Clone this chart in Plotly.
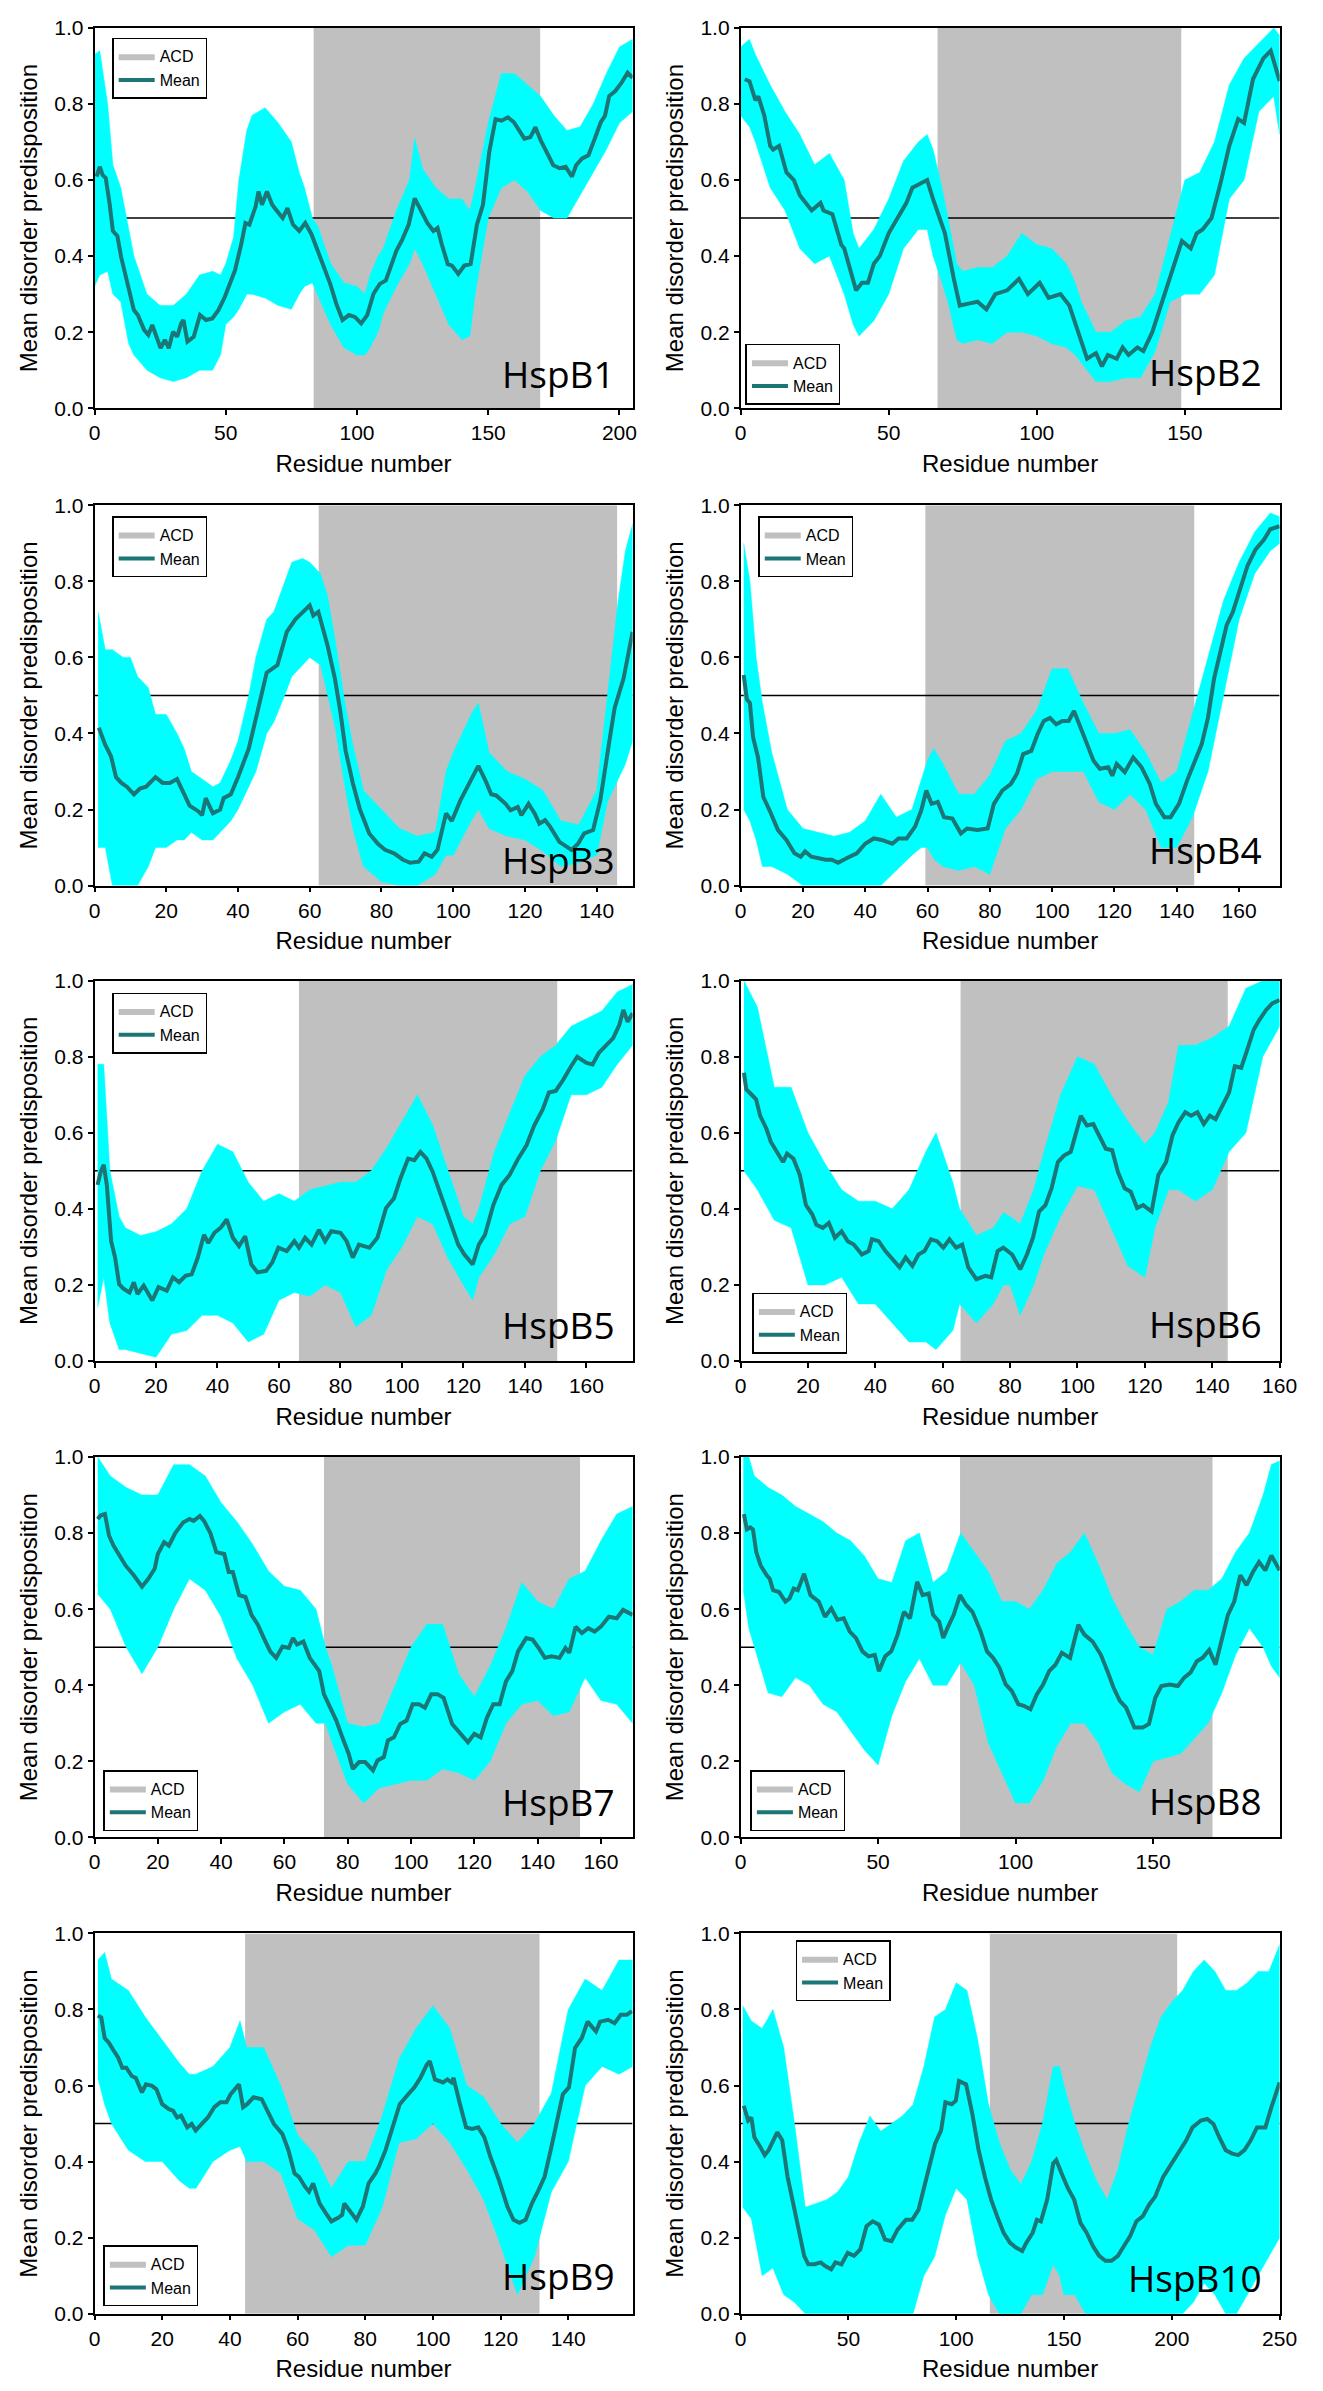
import plotly.graph_objects as go

# ---- data ----
names = ["HspB1", "HspB2", "HspB3", "HspB4", "HspB5",
         "HspB6", "HspB7", "HspB8", "HspB9", "HspB10"]
lengths = [205, 182, 150, 173, 175, 160, 170, 196, 159, 250]
acd_start = [83.5, 66.5, 62.5, 59.3, 66.5, 65.3, 72.5, 79.8, 44.5, 115.6]
acd_end = [169.8, 148.8, 145.7, 145.6, 150.5, 144.6, 153.4, 171.6, 131.5, 202.5]
tick_step = [50, 50, 20, 20, 20, 20, 20, 50, 20, 50]
threshold = 0.5

hspb1_mean_x = [0.8, 2, 3.1, 4.3, 5.8, 7, 8.7, 10.2, 12.6, 15, 16.5, 18.9, 20.5, 22, 23.6, 25.2, 26.8, 28.3, 29.9, 31.5,
                33, 33.9, 35.4, 37.8, 40.2, 42.5, 44.9, 47.2, 49.6, 51.2, 53.5, 55.9, 57.5, 59, 61.4, 62.5, 63.8, 65.7,
                67.7, 69.6, 71.7, 73.5, 75.6, 78, 80.3, 82.7, 85, 87.4, 89.8, 92.1, 94.5, 96.9, 99.2, 101.6, 103.9,
                106.3, 108.7, 111, 112.6, 115, 117.3, 119.7, 122, 124.4, 126.8, 129.1, 130.7, 132.3, 134.6, 136.2,
                138.6, 140.9, 143.3, 145.7, 148, 150.4, 152.8, 155.1, 157.5, 159.8, 162.2, 163.8, 166.1, 168, 170,
                172.4, 174.8, 177.2, 179.5, 181.9, 183.5, 185.8, 188.2, 190.6, 192.9, 194.5, 196.1, 198.4, 200.8,
                203.1, 205]
hspb1_mean_y = [0.609, 0.635, 0.613, 0.605, 0.535, 0.466, 0.453, 0.396, 0.327, 0.258, 0.245, 0.206, 0.193, 0.219,
                0.188, 0.158, 0.18, 0.158, 0.201, 0.188, 0.223, 0.232, 0.175, 0.188, 0.245, 0.232, 0.236, 0.258,
                0.292, 0.318, 0.362, 0.431, 0.487, 0.483, 0.531, 0.57, 0.535, 0.57, 0.535, 0.518, 0.5, 0.526, 0.483,
                0.466, 0.487, 0.457, 0.414, 0.375, 0.327, 0.275, 0.232, 0.245, 0.24, 0.223, 0.245, 0.301, 0.327,
                0.336, 0.37, 0.414, 0.444, 0.483, 0.552, 0.518, 0.487, 0.466, 0.474, 0.431, 0.379, 0.375, 0.353,
                0.375, 0.379, 0.483, 0.535, 0.674, 0.76, 0.756, 0.765, 0.752, 0.726, 0.709, 0.713, 0.739, 0.704,
                0.67, 0.639, 0.631, 0.635, 0.609, 0.639, 0.657, 0.665, 0.709, 0.752, 0.769, 0.821, 0.834, 0.856,
                0.882, 0.869]
hspb1_band_x = [0, 2, 5, 7, 10, 13, 15, 20, 25, 30, 35, 40, 45, 48, 50, 53, 55, 58, 60, 65, 70, 75, 78, 80, 83, 85,
                88, 90, 95, 100, 103, 105, 108, 110, 115, 120, 122, 125, 130, 135, 140, 143, 145, 148, 150, 155, 160,
                165, 170, 175, 180, 185, 190, 195, 200, 205]
hspb1_band_lo = [0.32, 0.35, 0.36, 0.30, 0.28, 0.17, 0.14, 0.10, 0.08, 0.07, 0.08, 0.10, 0.10, 0.14, 0.22, 0.24,
                 0.26, 0.30, 0.30, 0.29, 0.27, 0.26, 0.30, 0.32, 0.33, 0.30, 0.25, 0.22, 0.16, 0.14, 0.14, 0.16,
                 0.20, 0.25, 0.32, 0.38, 0.42, 0.38, 0.30, 0.22, 0.18, 0.19, 0.30, 0.42, 0.50, 0.58, 0.60, 0.57,
                 0.52, 0.50, 0.50, 0.56, 0.62, 0.68, 0.75, 0.78]
hspb1_band_hi = [0.93, 0.94, 0.80, 0.64, 0.58, 0.47, 0.40, 0.30, 0.27, 0.27, 0.30, 0.35, 0.36, 0.35, 0.38, 0.45,
                 0.60, 0.73, 0.77, 0.79, 0.75, 0.70, 0.62, 0.58, 0.50, 0.48, 0.42, 0.38, 0.33, 0.32, 0.30, 0.35,
                 0.40, 0.42, 0.52, 0.60, 0.71, 0.63, 0.58, 0.55, 0.55, 0.52, 0.58, 0.68, 0.75, 0.88, 0.88, 0.85,
                 0.82, 0.77, 0.73, 0.74, 0.80, 0.88, 0.95, 0.97]

hspb2_mean_x = [1.4, 3, 5, 6, 8, 10, 11, 13, 15.5, 18, 20, 24, 27, 28, 31, 34, 35, 39, 41, 43, 45, 47, 50, 53, 56,
                58, 63, 65, 69, 72, 74, 77, 80, 83, 86, 90, 94, 97, 101, 104, 108, 111, 114, 117, 120, 122, 124,
                127, 129, 131, 134, 136, 139, 142, 145, 149, 152, 154, 156, 159, 162, 165, 168, 170, 173, 176.5,
                179, 182]
hspb2_mean_y = [0.865, 0.86, 0.81, 0.82, 0.77, 0.69, 0.68, 0.69, 0.62, 0.60, 0.56, 0.52, 0.54, 0.52, 0.51, 0.43,
                0.42, 0.31, 0.33, 0.33, 0.38, 0.40, 0.46, 0.50, 0.54, 0.58, 0.60, 0.55, 0.46, 0.34, 0.27, 0.275,
                0.28, 0.26, 0.30, 0.31, 0.34, 0.30, 0.33, 0.29, 0.30, 0.27, 0.20, 0.13, 0.145, 0.11, 0.14, 0.13,
                0.16, 0.14, 0.16, 0.15, 0.20, 0.27, 0.34, 0.44, 0.42, 0.46, 0.47, 0.50, 0.59, 0.69, 0.76, 0.75,
                0.865, 0.92, 0.94, 0.86]
hspb2_band_x = [0, 3, 5, 10, 15, 20, 25, 30, 35, 38, 40, 45, 50, 55, 60, 63, 65, 68, 70, 73, 75, 80, 85, 90, 95,
                100, 105, 110, 113, 115, 120, 125, 130, 135, 140, 145, 150, 155, 160, 165, 170, 175, 180, 182]
hspb2_band_lo = [0.77, 0.74, 0.70, 0.58, 0.52, 0.42, 0.38, 0.40, 0.30, 0.22, 0.19, 0.23, 0.30, 0.42, 0.47, 0.47,
                 0.40, 0.33, 0.28, 0.18, 0.17, 0.18, 0.17, 0.20, 0.20, 0.19, 0.17, 0.16, 0.14, 0.12, 0.07, 0.07,
                 0.08, 0.08, 0.15, 0.28, 0.30, 0.30, 0.35, 0.55, 0.60, 0.78, 0.82, 0.72]
hspb2_band_hi = [0.95, 0.97, 0.93, 0.85, 0.78, 0.72, 0.64, 0.67, 0.60, 0.46, 0.42, 0.47, 0.55, 0.65, 0.70, 0.72,
                 0.68, 0.58, 0.50, 0.38, 0.36, 0.37, 0.37, 0.40, 0.46, 0.43, 0.42, 0.38, 0.33, 0.28, 0.20, 0.20,
                 0.23, 0.24, 0.30, 0.45, 0.60, 0.62, 0.70, 0.85, 0.92, 0.96, 1.00, 0.98]

hspb3_mean_x = [1.2, 3, 4.6, 6, 7.5, 9, 11, 12.7, 14.4, 17, 19, 21, 23, 25, 26.5, 29, 30, 31, 33, 35, 36, 38, 40,
                43, 45.5, 48, 51, 53.6, 56, 58, 60, 61, 62.4, 65, 67, 68.5, 70, 72, 74, 76.6, 79, 81, 83.5, 86, 88,
                90.4, 92, 94, 95.6, 98, 99.6, 102, 104, 107, 109, 110.6, 112, 114.6, 116, 118, 119, 121, 122.7,
                124, 125.6, 127, 129.6, 131, 133, 134.8, 136.5, 139, 141, 143.4, 145, 147.5, 150]
hspb3_mean_y = [0.415, 0.37, 0.34, 0.285, 0.27, 0.26, 0.24, 0.255, 0.26, 0.285, 0.27, 0.27, 0.28, 0.24, 0.21,
                0.195, 0.185, 0.23, 0.19, 0.20, 0.23, 0.24, 0.285, 0.36, 0.46, 0.56, 0.58, 0.667, 0.70, 0.72, 0.737,
                0.71, 0.72, 0.63, 0.545, 0.46, 0.355, 0.27, 0.20, 0.137, 0.11, 0.094, 0.085, 0.068, 0.06, 0.063,
                0.085, 0.076, 0.094, 0.19, 0.17, 0.224, 0.26, 0.315, 0.276, 0.24, 0.237, 0.215, 0.198, 0.207,
                0.185, 0.215, 0.19, 0.163, 0.172, 0.155, 0.115, 0.107, 0.094, 0.11, 0.137, 0.146, 0.224, 0.372,
                0.467, 0.545, 0.667]
hspb3_band_x = [1, 3, 5, 8, 10, 12, 15, 17, 20, 23, 25, 27, 30, 33, 35, 38, 40, 43, 45, 48, 50, 53, 55, 58, 60, 63,
                65, 67, 70, 72, 75, 80, 85, 90, 95, 98, 100, 105, 107, 110, 115, 120, 125, 130, 135, 140, 143, 146,
                148, 150]
hspb3_band_lo = [0.10, 0.10, 0.0, 0.0, 0.0, 0.0, 0.05, 0.10, 0.10, 0.12, 0.12, 0.14, 0.12, 0.12, 0.14, 0.17, 0.20,
                 0.26, 0.30, 0.40, 0.43, 0.50, 0.55, 0.58, 0.60, 0.58, 0.50, 0.42, 0.25, 0.15, 0.05, 0.01, 0.0, 0.0,
                 0.03, 0.08, 0.08, 0.17, 0.20, 0.15, 0.13, 0.12, 0.09, 0.05, 0.06, 0.08, 0.22, 0.28, 0.32, 0.38]
hspb3_band_hi = [0.72, 0.62, 0.62, 0.60, 0.60, 0.55, 0.52, 0.45, 0.45, 0.40, 0.36, 0.30, 0.28, 0.26, 0.27, 0.33,
                 0.38, 0.50, 0.60, 0.70, 0.72, 0.80, 0.85, 0.86, 0.85, 0.82, 0.76, 0.65, 0.47, 0.37, 0.25, 0.20,
                 0.15, 0.13, 0.14, 0.30, 0.35, 0.45, 0.48, 0.35, 0.30, 0.28, 0.25, 0.17, 0.16, 0.25, 0.50, 0.75,
                 0.88, 0.95]

hspb4_mean_x = [1, 2, 3, 4, 5.6, 7.3, 9.3, 12, 14.7, 17.3, 19.3, 20.7, 22.7, 25.3, 27.3, 29.3, 31.3, 34, 37.3, 40,
                42.7, 45.3, 48.7, 50.7, 53.3, 56, 58, 59.6, 61.3, 63.3, 65.3, 68, 70.7, 72.7, 76, 79.3, 81.3, 84,
                86.7, 88.7, 90.7, 93.3, 95.3, 97.3, 99.3, 101.3, 103.3, 105.3, 107, 108.7, 110.7, 113.3, 115.3, 118,
                119.3, 120.7, 123.3, 126, 128.7, 131.3, 133.3, 136, 138, 140.7, 143.3, 146, 148, 150, 152, 154, 156,
                158, 160.7, 162.7, 165.3, 168, 170, 173]
hspb4_mean_y = [0.554, 0.49, 0.48, 0.39, 0.337, 0.233, 0.198, 0.146, 0.12, 0.085, 0.076, 0.09, 0.076, 0.072, 0.068,
                0.068, 0.06, 0.072, 0.085, 0.11, 0.124, 0.12, 0.11, 0.124, 0.124, 0.155, 0.198, 0.25, 0.215, 0.22,
                0.18, 0.176, 0.137, 0.15, 0.146, 0.15, 0.215, 0.25, 0.267, 0.294, 0.346, 0.354, 0.398, 0.433, 0.441,
                0.424, 0.433, 0.433, 0.459, 0.424, 0.38, 0.328, 0.307, 0.311, 0.289, 0.32, 0.298, 0.337, 0.311,
                0.268, 0.215, 0.18, 0.18, 0.215, 0.276, 0.328, 0.372, 0.441, 0.546, 0.615, 0.685, 0.72, 0.789,
                0.841, 0.884, 0.91, 0.937, 0.945]
hspb4_band_x = [1, 3, 5, 7, 10, 15, 20, 25, 30, 35, 40, 45, 50, 55, 58, 60, 62, 65, 70, 75, 80, 85, 90, 95, 100,
                105, 110, 115, 120, 125, 130, 135, 140, 145, 150, 155, 160, 165, 170, 173]
hspb4_band_lo = [0.20, 0.17, 0.12, 0.05, 0.05, 0.03, 0.0, 0.0, 0.0, 0.0, 0.0, 0.0, 0.04, 0.08, 0.10, 0.10, 0.07,
                 0.05, 0.04, 0.05, 0.03, 0.15, 0.20, 0.28, 0.30, 0.30, 0.30, 0.22, 0.20, 0.24, 0.20, 0.10, 0.10,
                 0.18, 0.30, 0.50, 0.70, 0.82, 0.88, 0.90]
hspb4_band_hi = [0.90, 0.80, 0.60, 0.48, 0.35, 0.20, 0.15, 0.14, 0.13, 0.14, 0.17, 0.24, 0.18, 0.20, 0.28, 0.33,
                 0.36, 0.32, 0.24, 0.24, 0.29, 0.38, 0.40, 0.46, 0.57, 0.57, 0.48, 0.40, 0.40, 0.41, 0.35, 0.27,
                 0.30, 0.45, 0.60, 0.75, 0.85, 0.93, 0.98, 0.97]

hspb5_mean_x = [1, 2, 3, 4, 5.4, 6.7, 8, 9.4, 11.4, 12.8, 14, 16, 18.8, 20.8, 23.5, 25.5, 27.5, 29.6, 31.6, 33.6,
                35.6, 37, 39, 41, 43, 45, 47, 49, 51, 53, 55.8, 57.8, 59.8, 62.5, 65, 66.5, 68.5, 70.6, 73, 75, 77,
                80, 82, 84, 86, 89.4, 92, 94.8, 97.4, 99.5, 102, 104, 106, 108, 110, 113, 115.6, 118.3, 120.3, 123,
                125, 127, 129.7, 132.4, 135, 137.8, 140.5, 143, 145.8, 147.8, 150, 152.5, 155, 157, 160, 162, 164,
                166.7, 168.7, 170.7, 172, 173.4, 175]
hspb5_mean_y = [0.463, 0.497, 0.516, 0.463, 0.315, 0.272, 0.202, 0.19, 0.18, 0.207, 0.176, 0.198, 0.159, 0.194,
                0.185, 0.22, 0.207, 0.224, 0.228, 0.272, 0.332, 0.31, 0.337, 0.35, 0.372, 0.324, 0.302, 0.328,
                0.254, 0.233, 0.237, 0.259, 0.298, 0.289, 0.315, 0.298, 0.324, 0.306, 0.345, 0.315, 0.341, 0.337,
                0.315, 0.272, 0.306, 0.298, 0.324, 0.402, 0.428, 0.48, 0.532, 0.528, 0.55, 0.532, 0.497, 0.428,
                0.376, 0.306, 0.28, 0.254, 0.306, 0.332, 0.41, 0.463, 0.489, 0.532, 0.567, 0.619, 0.662, 0.706,
                0.71, 0.74, 0.775, 0.8, 0.784, 0.78, 0.81, 0.832, 0.849, 0.884, 0.923, 0.892, 0.914]
hspb5_band_x = [1, 3, 5, 8, 10, 15, 20, 25, 30, 35, 40, 45, 50, 55, 60, 65, 70, 75, 80, 85, 90, 95, 100, 105, 110,
                115, 120, 123, 125, 130, 135, 140, 145, 150, 155, 160, 165, 170, 175]
hspb5_band_lo = [0.14, 0.22, 0.10, 0.03, 0.03, 0.02, 0.01, 0.07, 0.08, 0.12, 0.12, 0.10, 0.05, 0.07, 0.16, 0.18,
                 0.17, 0.20, 0.18, 0.09, 0.12, 0.24, 0.30, 0.38, 0.36, 0.27, 0.20, 0.16, 0.22, 0.28, 0.36, 0.38,
                 0.50, 0.58, 0.70, 0.70, 0.72, 0.78, 0.83]
hspb5_band_hi = [0.78, 0.78, 0.50, 0.38, 0.35, 0.33, 0.34, 0.36, 0.40, 0.50, 0.57, 0.55, 0.47, 0.42, 0.44, 0.42,
                 0.45, 0.46, 0.47, 0.47, 0.50, 0.56, 0.63, 0.70, 0.62, 0.50, 0.38, 0.36, 0.40, 0.55, 0.65, 0.75,
                 0.80, 0.83, 0.88, 0.90, 0.92, 0.97, 0.99]

hspb6_mean_x = [1, 1.7, 3.3, 4.6, 5.8, 7.7, 9, 10.8, 12.6, 13.8, 15.7, 17.6, 19.4, 21.3, 22.5, 24.4, 26.2, 28, 30,
                31.8, 33.6, 36, 38, 39, 41, 43, 44.7, 47.2, 49, 51, 52.8, 54.6, 56.5, 58.3, 60.2, 62, 64, 65.8, 67.6,
                70, 72.6, 74.4, 76.3, 78, 80.6, 83, 85, 86.8, 88.6, 90.5, 92.3, 94.2, 96, 98, 101, 102.8, 104.7,
                106.5, 108.4, 110.3, 112, 114, 115.8, 117.7, 119.5, 122, 124, 126.3, 128.2, 130, 132, 133.7, 135.6,
                137.5, 139.3, 141, 143, 145, 146.7, 148.6, 150.4, 152.3, 154, 156, 157.8, 160]
hspb6_mean_y = [0.758, 0.714, 0.70, 0.688, 0.645, 0.61, 0.576, 0.55, 0.523, 0.545, 0.532, 0.489, 0.41, 0.385,
                0.358, 0.35, 0.363, 0.324, 0.341, 0.315, 0.306, 0.28, 0.289, 0.32, 0.315, 0.289, 0.272, 0.246,
                0.272, 0.25, 0.28, 0.289, 0.32, 0.315, 0.298, 0.32, 0.298, 0.306, 0.246, 0.215, 0.224, 0.22, 0.289,
                0.298, 0.28, 0.241, 0.28, 0.324, 0.393, 0.41, 0.454, 0.523, 0.54, 0.55, 0.645, 0.619, 0.623, 0.593,
                0.558, 0.554, 0.497, 0.454, 0.445, 0.402, 0.41, 0.393, 0.489, 0.523, 0.593, 0.628, 0.654, 0.645,
                0.654, 0.623, 0.645, 0.636, 0.671, 0.706, 0.775, 0.771, 0.819, 0.871, 0.897, 0.923, 0.94, 0.949]
hspb6_band_x = [1, 5, 10, 15, 20, 25, 30, 35, 40, 45, 50, 55, 58, 60, 63, 65, 70, 75, 78, 80, 83, 87, 90, 95, 100,
                105, 110, 115, 120, 123, 127, 130, 135, 140, 145, 150, 155, 160]
hspb6_band_lo = [0.50, 0.45, 0.37, 0.35, 0.20, 0.20, 0.22, 0.15, 0.15, 0.10, 0.05, 0.05, 0.03, 0.05, 0.08, 0.15,
                 0.10, 0.15, 0.20, 0.20, 0.12, 0.20, 0.28, 0.38, 0.46, 0.45, 0.35, 0.25, 0.22, 0.35, 0.45, 0.45,
                 0.42, 0.45, 0.55, 0.60, 0.80, 0.88]
hspb6_band_hi = [1.00, 0.93, 0.72, 0.72, 0.60, 0.52, 0.45, 0.42, 0.42, 0.40, 0.45, 0.55, 0.60, 0.55, 0.47, 0.40,
                 0.33, 0.35, 0.39, 0.38, 0.36, 0.45, 0.55, 0.70, 0.80, 0.78, 0.70, 0.63, 0.57, 0.60, 0.68, 0.83,
                 0.83, 0.85, 0.88, 0.98, 1.00, 1.00]

hspb7_mean_x = [1, 2, 3.3, 4.6, 6, 7.8, 9.8, 12.4, 15, 17, 19, 20, 22, 23.5, 25.5, 28, 30, 31.3, 33.3, 34.6, 36.6,
                38.5, 41, 42.4, 43.7, 45.7, 47.7, 49.6, 51.6, 53.5, 55.5, 57.4, 59.4, 61.4, 62.7, 64, 66, 68, 70,
                71, 72.5, 74.4, 76.4, 78.3, 80.3, 81.6, 83.6, 85.5, 88, 89.4, 91.4, 92.7, 94.6, 96.6, 98.6, 100.5,
                102.5, 104.4, 106.4, 108.4, 110.3, 113, 115.5, 118, 120, 122, 124, 126, 128, 130, 132, 133.8, 136.4,
                138.4, 140.3, 142.3, 144.3, 146.9, 148.8, 150, 152, 154, 156, 158, 160, 162.5, 165, 167, 170]
hspb7_mean_y = [0.837, 0.847, 0.85, 0.793, 0.767, 0.741, 0.715, 0.689, 0.659, 0.68, 0.706, 0.745, 0.776, 0.767,
                0.80, 0.828, 0.837, 0.832, 0.845, 0.832, 0.80, 0.75, 0.745, 0.698, 0.698, 0.637, 0.632, 0.585,
                0.559, 0.524, 0.489, 0.472, 0.502, 0.498, 0.524, 0.507, 0.515, 0.472, 0.446, 0.437, 0.376, 0.341,
                0.307, 0.263, 0.22, 0.18, 0.198, 0.198, 0.176, 0.202, 0.211, 0.255, 0.263, 0.298, 0.307, 0.35,
                0.35, 0.341, 0.376, 0.376, 0.367, 0.298, 0.272, 0.25, 0.272, 0.263, 0.315, 0.35, 0.35, 0.41, 0.437,
                0.489, 0.524, 0.52, 0.498, 0.472, 0.476, 0.472, 0.498, 0.485, 0.554, 0.537, 0.55, 0.541, 0.554,
                0.58, 0.576, 0.598, 0.585]
hspb7_band_x = [1, 5, 10, 15, 20, 25, 30, 35, 40, 45, 50, 55, 60, 65, 70, 73, 75, 80, 85, 90, 95, 100, 105, 110,
                115, 120, 125, 130, 135, 140, 145, 150, 155, 160, 165, 170]
hspb7_band_lo = [0.64, 0.60, 0.50, 0.43, 0.50, 0.60, 0.68, 0.65, 0.58, 0.47, 0.40, 0.30, 0.33, 0.35, 0.30, 0.30,
                 0.25, 0.14, 0.09, 0.13, 0.14, 0.15, 0.15, 0.18, 0.17, 0.15, 0.20, 0.30, 0.35, 0.36, 0.32, 0.33,
                 0.42, 0.36, 0.35, 0.30]
hspb7_band_hi = [1.00, 0.95, 0.92, 0.90, 0.90, 0.98, 0.98, 0.95, 0.88, 0.83, 0.77, 0.70, 0.66, 0.65, 0.60, 0.50,
                 0.45, 0.30, 0.29, 0.30, 0.40, 0.50, 0.56, 0.56, 0.43, 0.37, 0.45, 0.55, 0.67, 0.62, 0.60, 0.68,
                 0.70, 0.78, 0.85, 0.87]

hspb8_mean_x = [1.2, 2.3, 3.5, 4.5, 5.7, 7.3, 9.5, 10.6, 11.8, 14, 16.3, 17.8, 19.3, 20.8, 23.1, 25.4, 28.4, 30.7,
                33, 35.2, 37.5, 39.7, 42, 44.3, 46.5, 48.8, 50.3, 52.6, 54.8, 57.1, 59.4, 61.6, 64.2, 66.2, 68.4, 70,
                72.2, 73.7, 75.2, 77.5, 79.8, 82, 84.3, 87.3, 89.6, 91.8, 94.1, 96.4, 98.6, 101, 103, 105.4, 107.7,
                110, 112.2, 114.5, 116.8, 119.8, 122.8, 125, 128, 131, 133.4, 135.6, 137.9, 140.2, 143.2, 146.2,
                148.5, 150.8, 153, 156, 159, 161.3, 163.6, 165.9, 168, 170.4, 172.7, 175, 177.2, 179.5, 181.7, 184,
                186.3, 188.5, 190.8, 193, 196]
hspb8_mean_y = [0.85, 0.81, 0.815, 0.81, 0.75, 0.715, 0.689, 0.68, 0.65, 0.645, 0.62, 0.628, 0.654, 0.65, 0.693,
                0.637, 0.62, 0.58, 0.602, 0.572, 0.576, 0.541, 0.524, 0.489, 0.476, 0.48, 0.437, 0.476, 0.489, 0.533,
                0.593, 0.576, 0.672, 0.637, 0.641, 0.585, 0.567, 0.524, 0.55, 0.585, 0.637, 0.611, 0.593, 0.541,
                0.489, 0.472, 0.446, 0.402, 0.385, 0.35, 0.346, 0.337, 0.376, 0.402, 0.437, 0.454, 0.485, 0.472,
                0.559, 0.533, 0.515, 0.48, 0.437, 0.394, 0.359, 0.341, 0.289, 0.289, 0.298, 0.367, 0.398, 0.402,
                0.398, 0.42, 0.433, 0.463, 0.472, 0.493, 0.454, 0.524, 0.585, 0.62, 0.689, 0.663, 0.698, 0.724,
                0.702, 0.741, 0.702]
hspb8_band_x = [1, 3, 5, 10, 15, 20, 25, 30, 35, 40, 45, 50, 55, 60, 65, 70, 75, 80, 85, 90, 95, 100, 105, 110, 115,
                120, 125, 130, 135, 140, 145, 150, 155, 160, 165, 170, 175, 180, 185, 190, 193, 196]
hspb8_band_lo = [0.65, 0.55, 0.50, 0.38, 0.37, 0.42, 0.40, 0.35, 0.33, 0.28, 0.23, 0.19, 0.32, 0.41, 0.47, 0.40,
                 0.40, 0.46, 0.40, 0.25, 0.17, 0.09, 0.09, 0.15, 0.24, 0.30, 0.30, 0.25, 0.17, 0.14, 0.12, 0.20,
                 0.21, 0.22, 0.26, 0.30, 0.38, 0.48, 0.55, 0.50, 0.45, 0.42]
hspb8_band_hi = [1.00, 1.00, 0.95, 0.92, 0.90, 0.87, 0.85, 0.83, 0.80, 0.78, 0.74, 0.68, 0.67, 0.78, 0.80, 0.67,
                 0.70, 0.80, 0.75, 0.70, 0.62, 0.62, 0.60, 0.65, 0.72, 0.75, 0.80, 0.72, 0.63, 0.56, 0.50, 0.48,
                 0.60, 0.62, 0.65, 0.65, 0.68, 0.75, 0.80, 0.90, 0.98, 0.99]

hspb9_mean_x = [1, 2, 3, 4.3, 5.5, 7, 8.2, 9.4, 11, 12.2, 14, 15.2, 17, 18.3, 20, 22, 23.2, 24.4, 25.6, 27.4, 28.7,
                29.9, 31.7, 33.5, 35.4, 37.2, 39, 40.2, 42.7, 43.9, 45.1, 47, 49.4, 51.2, 53, 55.5, 57.3, 59.1,
                60.4, 62.2, 63.4, 64.6, 66.5, 68.3, 70, 72, 73.2, 73.8, 75.6, 77.4, 79.3, 81, 83, 84, 86, 88.4,
                90.2, 92.7, 94.5, 96.3, 98.2, 99.1, 100.6, 103, 104.3, 105.5, 106.1, 108, 109.8, 111.6, 113.4,
                115.2, 117, 119.5, 122, 123.8, 125.6, 127.4, 129.3, 131, 133, 134.8, 136.6, 138.4, 140.2, 142, 144,
                145.7, 148.2, 149.4, 151.8, 153.7, 155.5, 157.3, 158.8]
hspb9_mean_y = [0.784, 0.779, 0.725, 0.712, 0.694, 0.673, 0.647, 0.647, 0.625, 0.62, 0.582, 0.603, 0.599, 0.59,
                0.551, 0.538, 0.534, 0.516, 0.521, 0.49, 0.499, 0.482, 0.499, 0.516, 0.543, 0.556, 0.556, 0.577,
                0.603, 0.543, 0.551, 0.569, 0.564, 0.53, 0.499, 0.473, 0.43, 0.369, 0.36, 0.334, 0.321, 0.343, 0.29,
                0.265, 0.243, 0.252, 0.26, 0.29, 0.269, 0.247, 0.282, 0.343, 0.369, 0.386, 0.43, 0.499, 0.551,
                0.577, 0.595, 0.62, 0.655, 0.664, 0.616, 0.608, 0.616, 0.608, 0.62, 0.551, 0.49, 0.486, 0.49,
                0.464, 0.412, 0.352, 0.282, 0.247, 0.239, 0.247, 0.291, 0.321, 0.36, 0.43, 0.499, 0.577, 0.595,
                0.699, 0.725, 0.768, 0.742, 0.768, 0.773, 0.764, 0.786, 0.786, 0.796]
hspb9_band_x = [1, 3, 5, 10, 15, 20, 25, 28, 30, 35, 40, 43, 45, 50, 55, 60, 65, 70, 75, 80, 85, 90, 95, 100, 105,
                110, 115, 120, 125, 130, 135, 140, 145, 150, 155, 159]
hspb9_band_lo = [0.62, 0.55, 0.50, 0.43, 0.40, 0.40, 0.35, 0.33, 0.33, 0.40, 0.43, 0.44, 0.40, 0.40, 0.37, 0.25,
                 0.22, 0.15, 0.18, 0.18, 0.28, 0.45, 0.46, 0.50, 0.45, 0.38, 0.30, 0.18, 0.05, 0.15, 0.32, 0.40,
                 0.60, 0.65, 0.63, 0.65]
hspb9_band_hi = [0.93, 0.95, 0.88, 0.85, 0.78, 0.72, 0.66, 0.63, 0.63, 0.65, 0.70, 0.77, 0.70, 0.70, 0.60, 0.47,
                 0.42, 0.33, 0.40, 0.40, 0.52, 0.67, 0.75, 0.81, 0.75, 0.60, 0.57, 0.50, 0.45, 0.50, 0.58, 0.80,
                 0.88, 0.85, 0.93, 0.93]

hspb10_mean_x = [1.5, 3.5, 5, 6.4, 9.2, 11.2, 13, 15, 17, 19.3, 21.8, 24.7, 27.6, 29.5, 31.4, 34.3, 37.2, 39.1, 42,
                 44, 46.8, 49.7, 52.6, 55.5, 58.4, 61.3, 64.2, 67, 70, 72.8, 76.7, 79.6, 82.5, 86.3, 90.2, 93, 95,
                 97.9, 99.8, 101.3, 104.6, 107.5, 110.4, 113.3, 116.2, 119, 122, 124.9, 127.7, 130.6, 132.6, 135.5,
                 137.4, 139.3, 142.2, 145, 146.4, 148.9, 151.8, 154.7, 157.6, 160.5, 163.4, 166.3, 169.2, 172, 175,
                 177.8, 180.7, 183.6, 186.5, 189.4, 192.3, 196, 200, 203.9, 206.7, 209.6, 213.5, 216.4, 219.3, 222,
                 225, 228, 230.8, 233.7, 236.6, 239.5, 243.4, 246.2, 250]
hspb10_mean_y = [0.547, 0.508, 0.516, 0.464, 0.438, 0.417, 0.43, 0.456, 0.477, 0.456, 0.36, 0.282, 0.195, 0.152,
                 0.13, 0.13, 0.135, 0.126, 0.117, 0.135, 0.13, 0.16, 0.152, 0.169, 0.23, 0.243, 0.234, 0.195, 0.191,
                 0.221, 0.247, 0.247, 0.273, 0.36, 0.447, 0.482, 0.556, 0.551, 0.56, 0.612, 0.603, 0.525, 0.43,
                 0.36, 0.30, 0.256, 0.213, 0.187, 0.174, 0.165, 0.187, 0.213, 0.247, 0.243, 0.30, 0.395, 0.404,
                 0.369, 0.33, 0.30, 0.239, 0.213, 0.178, 0.152, 0.139, 0.139, 0.152, 0.178, 0.204, 0.243, 0.256,
                 0.286, 0.308, 0.36, 0.395, 0.43, 0.456, 0.49, 0.508, 0.512, 0.499, 0.464, 0.43, 0.421, 0.417, 0.43,
                 0.456, 0.49, 0.49, 0.543, 0.608]
hspb10_band_x = [1, 5, 10, 15, 20, 25, 30, 35, 40, 45, 50, 55, 60, 65, 70, 75, 80, 85, 90, 95, 100, 105, 110, 115,
                 120, 125, 130, 135, 140, 145, 148, 150, 155, 160, 165, 170, 175, 180, 185, 190, 195, 200, 205, 210,
                 215, 220, 225, 230, 235, 240, 245, 250]
hspb10_band_lo = [0.28, 0.25, 0.10, 0.12, 0.05, 0.03, 0.0, 0.0, 0.0, 0.0, 0.0, 0.0, 0.0, 0.0, 0.0, 0.0, 0.0, 0.10,
                  0.15, 0.26, 0.33, 0.30, 0.15, 0.05, 0.0, 0.0, 0.0, 0.05, 0.05, 0.13, 0.10, 0.05, 0.05, 0.0, 0.0,
                  0.0, 0.0, 0.0, 0.0, 0.0, 0.0, 0.0, 0.0, 0.03, 0.08, 0.05, 0.0, 0.0, 0.05, 0.10, 0.15, 0.20]
hspb10_band_hi = [0.81, 0.77, 0.75, 0.80, 0.70, 0.50, 0.28, 0.29, 0.30, 0.32, 0.36, 0.45, 0.52, 0.48, 0.50, 0.52,
                  0.55, 0.65, 0.78, 0.80, 0.87, 0.85, 0.72, 0.55, 0.45, 0.38, 0.34, 0.40, 0.50, 0.65, 0.65, 0.60,
                  0.50, 0.42, 0.35, 0.30, 0.38, 0.50, 0.60, 0.70, 0.78, 0.82, 0.85, 0.90, 0.93, 0.90, 0.85, 0.85,
                  0.87, 0.90, 0.90, 0.97]

mean_x = [hspb1_mean_x, hspb2_mean_x, hspb3_mean_x, hspb4_mean_x, hspb5_mean_x,
          hspb6_mean_x, hspb7_mean_x, hspb8_mean_x, hspb9_mean_x, hspb10_mean_x]
mean_y = [hspb1_mean_y, hspb2_mean_y, hspb3_mean_y, hspb4_mean_y, hspb5_mean_y,
          hspb6_mean_y, hspb7_mean_y, hspb8_mean_y, hspb9_mean_y, hspb10_mean_y]
band_x = [hspb1_band_x, hspb2_band_x, hspb3_band_x, hspb4_band_x, hspb5_band_x,
          hspb6_band_x, hspb7_band_x, hspb8_band_x, hspb9_band_x, hspb10_band_x]
band_lo = [hspb1_band_lo, hspb2_band_lo, hspb3_band_lo, hspb4_band_lo, hspb5_band_lo,
           hspb6_band_lo, hspb7_band_lo, hspb8_band_lo, hspb9_band_lo, hspb10_band_lo]
band_hi = [hspb1_band_hi, hspb2_band_hi, hspb3_band_hi, hspb4_band_hi, hspb5_band_hi,
           hspb6_band_hi, hspb7_band_hi, hspb8_band_hi, hspb9_band_hi, hspb10_band_hi]

# ---- page layout (pixels of the 1323x2391 page) ----
W, H = 1323, 2391
cols = [(82, 630), (740, 1289)]
rows = [(8, 392), (490, 874), (970, 1354), (1451, 1835), (1932, 2316)]
legend_topleft = [(100, 18), (745, 327), (100, 501), (758, 501), (100, 982),
                  (752, 1285), (91, 1767), (750, 1767), (91, 2247), (796, 1939)]
label_lift = [17, 19, 8, 18, 19, 20, 18, 19, 20, 18]

FONT = "Arial, Liberation Sans, sans-serif"
TEAL = "#1b7675"
CYAN = "#00ffff"
GREY = "#c0c0c0"

fig = go.Figure()
layout = dict(width=W, height=H, margin=dict(l=0, r=0, t=0, b=0),
              paper_bgcolor="white", plot_bgcolor="white",
              font=dict(family=FONT, color="black"), annotations=[])

for i, name in enumerate(names):
    k = i + 1
    sfx = "" if k == 1 else str(k)
    xa, ya = "x" + sfx, "y" + sfx
    leg = "legend" + sfx
    c0, c1 = cols[i % 2]
    r0, r1 = rows[i // 2]

    # ACD region
    fig.add_trace(go.Scatter(
        x=[acd_start[i], acd_end[i], acd_end[i], acd_start[i], acd_start[i]],
        y=[0, 0, 1, 1, 0], mode="lines", fill="toself", fillcolor=GREY,
        line=dict(width=0, color=GREY), name="ACD", legend=leg,
        xaxis=xa, yaxis=ya, hoverinfo="skip"))
    # 0.5 threshold
    fig.add_trace(go.Scatter(
        x=[0, lengths[i]], y=[threshold, threshold], mode="lines",
        line=dict(color="black", width=1.5), showlegend=False,
        xaxis=xa, yaxis=ya, hoverinfo="skip"))
    # spread band
    fig.add_trace(go.Scatter(
        x=band_x[i] + band_x[i][::-1], y=band_hi[i] + band_lo[i][::-1],
        mode="lines", fill="toself", fillcolor=CYAN,
        line=dict(width=0.5, color=CYAN), showlegend=False,
        xaxis=xa, yaxis=ya, hoverinfo="skip"))
    # mean
    fig.add_trace(go.Scatter(
        x=mean_x[i], y=mean_y[i], mode="lines",
        line=dict(color=TEAL, width=4), name="Mean", legend=leg,
        xaxis=xa, yaxis=ya))

    axis_common = dict(showline=True, mirror=True, linecolor="black", linewidth=1.5,
                       ticks="outside", ticklen=5, tickwidth=1.5, tickcolor="black",
                       showgrid=False, zeroline=False,
                       tickfont=dict(size=21, family=FONT, color="black"))
    layout["xaxis" + sfx] = dict(
        axis_common, domain=[c0 / W, c1 / W], anchor=ya,
        range=[0, lengths[i]], tick0=0, dtick=tick_step[i],
        title=dict(text="Residue number", font=dict(size=24, family=FONT), standoff=12))
    layout["yaxis" + sfx] = dict(
        axis_common, domain=[1 - r1 / H, 1 - r0 / H], anchor=xa,
        range=[0, 1], tick0=0, dtick=0.2, tickformat=".1f",
        title=dict(text="Mean disorder predisposition", font=dict(size=24, family=FONT), standoff=10))

    lx, ly = legend_topleft[i]
    layout[leg] = dict(x=lx / W, y=1 - ly / H, xanchor="left", yanchor="top",
                       bgcolor="white", bordercolor="black", borderwidth=1.5,
                       font=dict(size=16, family=FONT, color="black"),
                       itemwidth=36, tracegroupgap=0)

    layout["annotations"].append(dict(
        text=name, xref=xa + " domain", yref=ya + " domain",
        x=1 - 16 / (c1 - c0), y=label_lift[i] / (r1 - r0) - 0.025,
        xanchor="right", yanchor="bottom", showarrow=False,
        font=dict(size=37, family="Open Sans, sans-serif", color="black")))

fig.update_layout(**layout)
fig.write_html("out.html")
